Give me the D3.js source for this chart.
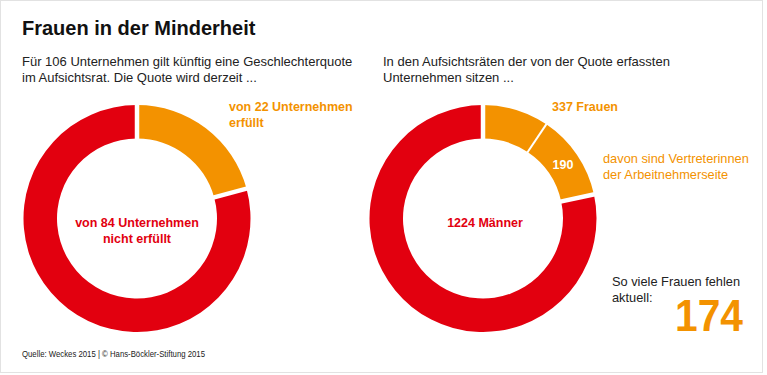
<!DOCTYPE html>
<html>
<head>
<meta charset="utf-8">
<script src="https://cdn.jsdelivr.net/npm/d3@7"></script>
<style>
  body { margin: 0; background: #fff; }
  svg { font-family: "Liberation Sans", Arial, sans-serif; }
</style>
</head>
<body>
<div id="chart"></div>
<script>
//Data
let quoteLabels = ["erfüllt", "nicht erfüllt"]
let quoteValues = [22, 84]

let boardLabels = ["Frauen (übrige)", "Arbeitnehmervertreterinnen", "Männer"]
let boardValues = [147, 190, 1224]

let missingWomen = 174

let red = "#e2000f"
let orange = "#f39200"

let width = 767
let height = 375

let svg = d3.select("#chart")
  .append("svg")
  .attr("width", width)
  .attr("height", height)

//frame
svg.append("rect")
  .attr("x", 0.5)
  .attr("y", 0.5)
  .attr("width", 762)
  .attr("height", 372)
  .attr("fill", "#fff")
  .attr("stroke", "#e2e2e2")

//title
svg.append("text")
  .text("Frauen in der Minderheit")
  .attr("x", 22)
  .attr("y", 35)
  .style("font-size", "20px")
  .style("font-weight", "bold")
  .attr("fill", "#111")

//two line text helper
function addLines(lines, x, y, lineHeight, size, weight, color, anchor){
  let t = svg.append("text")
    .attr("x", x)
    .attr("y", y)
    .attr("fill", color)
    .style("font-size", size + "px")
    .style("font-weight", weight)
    .style("text-anchor", anchor)
  lines.forEach((l, i) => {
    t.append("tspan")
      .attr("x", x)
      .attr("dy", i == 0 ? 0 : lineHeight)
      .text(l)
  })
  return t
}

addLines(["Für 106 Unternehmen gilt künftig eine Geschlechterquote", "im Aufsichtsrat. Die Quote wird derzeit ..."],
  22, 66, 16, 13, "normal", "#222", "start")
addLines(["In den Aufsichtsräten der von der Quote erfassten", "Unternehmen sitzen ..."],
  383, 66, 16, 13, "normal", "#222", "start")

//donuts
let outerR = 113.5
let innerR = 80

let pie = d3.pie().sort(null)

let arc = d3.arc()
  .innerRadius(innerR)
  .outerRadius(outerR)

function createDonut(values, cx, cy, colors, pads){
  let g = svg.append("g")
    .attr("transform", "translate(" + cx + "," + cy + ")")
  let arcs = pie(values)
  g.selectAll("path")
    .data(arcs)
    .enter()
    .append("path")
    .attr("d", d => arc(d))
    .attr("fill", (d, i) => colors[i])
  //white gaps between segments
  g.selectAll("line")
    .data(arcs)
    .enter()
    .append("line")
    .attr("x1", d => Math.sin(d.startAngle) * (innerR - 2))
    .attr("y1", d => -Math.cos(d.startAngle) * (innerR - 2))
    .attr("x2", d => Math.sin(d.startAngle) * (outerR + 2))
    .attr("y2", d => -Math.cos(d.startAngle) * (outerR + 2))
    .attr("stroke", "#fff")
    .attr("stroke-width", (d, i) => pads[i])
  return { g: g, arcs: arcs }
}

let left = createDonut(quoteValues, 137, 218.5, [orange, red], [4.5, 4.5])
let right = createDonut(boardValues, 483, 218.5, [orange, orange, red], [4.5, 2, 4.5])

//labels left donut
addLines(["von 22 Unternehmen", "erfüllt"], 229, 111, 16, 12.5, "bold", orange, "start")
addLines(["von 84 Unternehmen", "nicht erfüllt"], 137, 227, 16, 12.5, "bold", red, "middle")

//labels right donut
addLines(["337 Frauen"], 552, 111, 16, 12.5, "bold", orange, "start")
let c190 = arc.centroid(right.arcs[1])
svg.append("text")
  .text(boardValues[1])
  .attr("x", 483 + c190[0])
  .attr("y", 218.5 + c190[1] + 5)
  .attr("fill", "#fff")
  .style("font-size", "12.5px")
  .style("font-weight", "bold")
  .style("text-anchor", "middle")
addLines(["davon sind Vertreterinnen", "der Arbeitnehmerseite"], 603, 163, 16, 12.8, "normal", orange, "start")
addLines(["1224 Männer"], 485, 227, 16, 12.5, "bold", red, "middle")

//missing women
addLines(["So viele Frauen fehlen", "aktuell:"], 612, 286, 16, 12.8, "normal", "#222", "start")
svg.append("text")
  .text(missingWomen)
  .attr("x", 743)
  .attr("y", 331)
  .attr("textLength", 68)
  .attr("lengthAdjust", "spacingAndGlyphs")
  .attr("fill", orange)
  .style("font-size", "44px")
  .style("font-weight", "bold")
  .style("text-anchor", "end")

//source
svg.append("text")
  .text("Quelle: Weckes 2015 | © Hans-Böckler-Stiftung 2015")
  .attr("x", 22)
  .attr("y", 357)
  .attr("textLength", 183)
  .attr("lengthAdjust", "spacingAndGlyphs")
  .attr("fill", "#222")
  .style("font-size", "9px")
</script>
</body>
</html>
